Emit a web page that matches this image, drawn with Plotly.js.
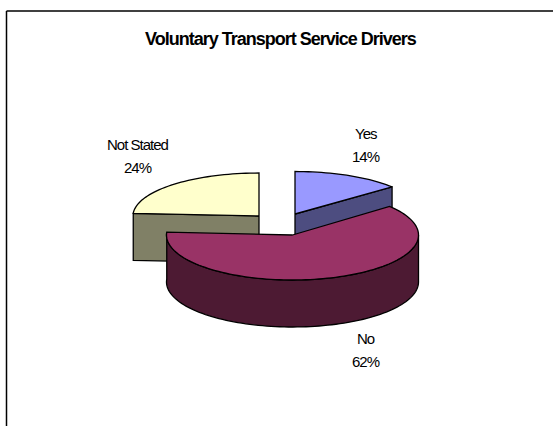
<!DOCTYPE html>
<html>
<head>
<meta charset="utf-8">
<script src="https://cdn.plot.ly/plotly-3.0.1.min.js"></script>
<style>
html,body{margin:0;padding:0;background:#fff;overflow:hidden}
#chart{width:553px;height:426px}
.annotation-text{letter-spacing:-1px}
</style>
</head>
<body>
<div id="chart"></div>
<script>
// Data
var categories = ["Yes", "No", "Not Stated"];
var percents = [14, 62, 24];
var chartTitle = "Voluntary Transport Service Drivers";
var topColors = ["#9999FF", "#993366", "#FFFFCC"];
var sideColors = ["#4D4D80", "#4D1A33", "#808066"];

// Projection of the tilted, exploded pie on to the page
var centres = [[295, 214], [292.5, 235], [259, 216]];
var radiiY = [42.5, 45, 43];
var rx = 126, depth = 47;
function pt(c, deg, drop, ry) {
  var a = deg * Math.PI / 180;
  return [c[0] + rx * Math.sin(a), c[1] - ry * Math.cos(a) + (drop || 0)];
}
function arc(c, from, to, drop, ry) {
  var out = [], n = Math.max(2, Math.round(Math.abs(to - from) / 2));
  for (var i = 0; i <= n; i++) out.push(pt(c, from + (to - from) * i / n, drop, ry));
  return out;
}
function poly(points, fill, name) {
  return {
    type: "scatter", mode: "lines", fill: "toself", fillcolor: fill, name: name,
    x: points.map(function (p) { return p[0]; }),
    y: points.map(function (p) { return p[1]; }),
    line: { color: "#000", width: 1.3, simplify: false },
    hoverinfo: "name", showlegend: false
  };
}
var total = percents.reduce(function (a, b) { return a + b; }, 0);
var start = [], end = [], acc = 0;
percents.forEach(function (v) {
  start.push(acc / total * 360);
  acc += v;
  end.push(acc / total * 360);
});
function topFace(i) {
  var c = centres[i];
  return poly([c].concat(arc(c, start[i], end[i], 0, radiiY[i])).concat([c]), topColors[i], categories[i]);
}
function cutFace(i, deg) {
  var c = centres[i], ry = radiiY[i], e = pt(c, deg, 0, ry);
  return poly([c, e, pt(c, deg, depth, ry), [c[0], c[1] + depth], c], sideColors[i], categories[i]);
}
function frontFace(i) {
  var c = centres[i], ry = radiiY[i];
  var a = arc(c, 90, end[i], 0, ry);
  var b = arc(c, end[i], 90, depth, ry);
  return poly(a.concat(b).concat([a[0]]), sideColors[i], categories[i]);
}
var traces = [
  cutFace(0, end[0]), topFace(0),
  cutFace(2, start[2]), topFace(2),
  frontFace(1), topFace(1)
];

var labelFont = { family: "Liberation Sans, Arial, sans-serif", size: 15, color: "#000" };
function label(name, pct, x, y) {
  return [
    { text: name, x: x, y: y, xref: "x", yref: "y", showarrow: false, font: labelFont },
    { text: pct + "%", x: x, y: y + 23, xref: "x", yref: "y", showarrow: false, font: labelFont }
  ];
}
var annotations = []
  .concat(label(categories[0], percents[0], 366, 133))
  .concat(label(categories[1], percents[1], 366, 338))
  .concat(label(categories[2], percents[2], 138, 144))
  .concat([{ text: "<b>" + chartTitle + "</b>", x: 280.5, y: 39, xref: "x", yref: "y", showarrow: false,
    font: { family: "Liberation Sans, Arial, sans-serif", size: 18, color: "#000" } }]);

var layout = {
  width: 553, height: 426,
  margin: { l: 0, r: 0, t: 0, b: 0 },
  paper_bgcolor: "#fff", plot_bgcolor: "#fff",
  xaxis: { range: [0, 553], visible: false, fixedrange: true },
  yaxis: { range: [426, 0], visible: false, fixedrange: true },
  showlegend: false,
  annotations: annotations,
  shapes: [
    { type: "line", xref: "x", yref: "y", x0: 6.5, x1: 553, y0: 11, y1: 11, line: { color: "#000", width: 1.5 } },
    { type: "line", xref: "x", yref: "y", x0: 6.5, x1: 6.5, y0: 11, y1: 426, line: { color: "#000", width: 1.5 } }
  ]
};
Plotly.newPlot("chart", traces, layout, { displayModeBar: false, staticPlot: true });
</script>
</body>
</html>
